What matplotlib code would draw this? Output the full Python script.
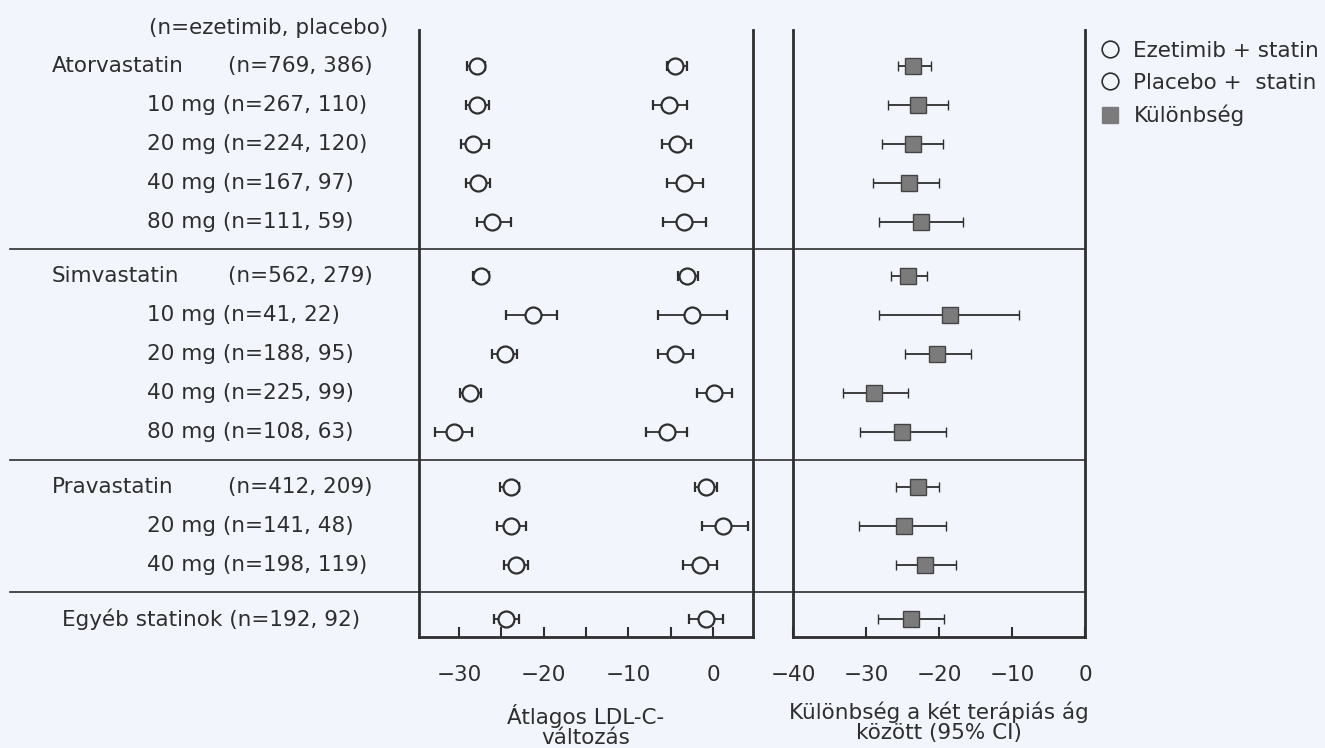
import numpy as np
import matplotlib
matplotlib.use("Agg")
import matplotlib.pyplot as plt
from matplotlib.lines import Line2D
from matplotlib.transforms import blended_transform_factory

plt.rcParams['font.family'] = ['DejaVu Sans']

# row labels (group name, n-text) - group rows have a name, dose rows only text
row_names = ['Atorvastatin', '', '', '', '',
             'Simvastatin', '', '', '', '',
             'Pravastatin', '', '',
             '']
row_texts = ['(n=769, 386)', '10 mg (n=267, 110)', '20 mg (n=224, 120)',
             '40 mg (n=167, 97)', '80 mg (n=111, 59)',
             '(n=562, 279)', '10 mg (n=41, 22)', '20 mg (n=188, 95)',
             '40 mg (n=225, 99)', '80 mg (n=108, 63)',
             '(n=412, 209)', '20 mg (n=141, 48)', '40 mg (n=198, 119)',
             'Egyéb statinok (n=192, 92)']
row_group = [0, 0, 0, 0, 0, 1, 1, 1, 1, 1, 2, 2, 2, 3]

# mean LDL-C change, ezetimib + statin
eze_mean = [-27.9, -27.9, -28.3, -27.7, -26.1, -27.4, -21.3, -24.6, -28.7, -30.6, -23.9, -23.8, -23.3, -24.4]
eze_lo = [-29.0, -29.1, -29.7, -29.2, -27.9, -28.3, -24.4, -26.1, -29.9, -32.8, -25.1, -25.5, -24.7, -25.9]
eze_hi = [-26.9, -26.4, -26.5, -26.3, -23.9, -26.4, -18.4, -23.1, -27.4, -28.5, -22.9, -22.1, -21.8, -22.9]

# placebo + statin
pla_mean = [-4.5, -5.2, -4.3, -3.4, -3.4, -3.1, -2.5, -4.5, 0.1, -5.4, -0.8, 1.2, -1.6, -0.8]
pla_lo = [-5.5, -7.1, -6.0, -5.4, -5.9, -4.1, -6.5, -6.5, -1.9, -7.9, -2.2, -1.3, -3.5, -2.8]
pla_hi = [-3.1, -3.1, -2.6, -1.2, -0.9, -1.8, 1.6, -2.4, 2.2, -3.1, 0.5, 4.1, 0.4, 1.2]

# difference between arms (95% CI)
dif_mean = [-23.6, -22.9, -23.6, -24.1, -22.5, -24.2, -18.5, -20.3, -28.9, -25.1, -22.9, -24.8, -21.9, -23.8]
dif_lo = [-25.6, -27.0, -27.8, -29.0, -28.2, -26.6, -28.2, -24.7, -33.2, -30.8, -25.9, -31.0, -25.9, -28.4]
dif_hi = [-21.1, -18.8, -19.5, -20.0, -16.7, -21.6, -9.0, -15.6, -24.2, -19.0, -20.0, -19.0, -17.7, -19.3]

left_ticks = [-30, -20, -10, 0]
left_minor = [-25, -15, -5]
right_ticks = [-40, -30, -20, -10, 0]

BG = '#f2f5fb'
INK = '#2e2e2e'
FS = 15.5

y = np.arange(len(row_texts)) + 0.4 * np.array(row_group)
seps = [(y[i] + y[i + 1]) / 2 for i in range(len(y) - 1) if row_group[i] != row_group[i + 1]]

fig = plt.figure(figsize=(13.25, 7.48), dpi=100, facecolor=BG)
ax1 = fig.add_axes([419 / 1325, 1 - 637 / 748, 334 / 1325, 607 / 748])
ax2 = fig.add_axes([793 / 1325, 1 - 637 / 748, 292 / 1325, 607 / 748])

def err(m, lo, hi):
    m = np.array(m)
    return [m - np.array(lo), np.array(hi) - m]

eb_kw = dict(ls='none', ecolor=INK, elinewidth=1.3, capsize=3.6, capthick=1.5)
ax1.errorbar(eze_mean, y, xerr=err(eze_mean, eze_lo, eze_hi), marker='o', ms=11.5,
             mfc=BG, mec=INK, mew=1.6, **eb_kw)
ax1.errorbar(pla_mean, y, xerr=err(pla_mean, pla_lo, pla_hi), marker='o', ms=11.5,
             mfc=BG, mec=INK, mew=1.6, **eb_kw)
ax2.errorbar(dif_mean, y, xerr=err(dif_mean, dif_lo, dif_hi), marker='s', ms=12,
             mfc='#7b7b7b', mec='#444444', mew=1.0, **eb_kw)

for ax in (ax1, ax2):
    ax.set_facecolor(BG)
    ax.set_ylim(14.65, -0.915)
    ax.set_yticks([])
    ax.spines['top'].set_visible(False)
    for s in ('left', 'right', 'bottom'):
        ax.spines[s].set_linewidth(2.0)
        ax.spines[s].set_color(INK)
    ax.tick_params(axis='x', which='both', direction='in', length=7, width=1.5,
                   color=INK, labelsize=FS, labelcolor=INK, pad=20)

ax1.set_xlim(-34.7, 4.7)
ax1.set_xticks(left_ticks)
ax1.set_xticks(left_minor, minor=True)
ax1.set_xticklabels([f'\u2212{abs(t)}' if t else '0' for t in left_ticks])
ax1.set_xlabel('Átlagos LDL-C-\nváltozás', fontsize=FS, color=INK, linespacing=1.0, labelpad=14)

ax2.set_xlim(-40, 0)
ax2.set_xticks(right_ticks)
ax2.set_xticklabels([f'\u2212{abs(t)}' if t else '0' for t in right_ticks])
ax2.set_xlabel('Különbség a két terápiás ág\nközött (95% CI)', fontsize=FS, color=INK,
               linespacing=1.0, labelpad=12)

# group separators across the whole figure
tr = blended_transform_factory(fig.transFigure, ax1.transData)
for s in seps:
    fig.add_artist(Line2D([10 / 1325, 1085 / 1325], [s, s], transform=tr, color=INK, lw=1.2))

# row labels
fig.text(149 / 1325, -0.97, '(n=ezetimib, placebo)', transform=tr, fontsize=FS, color=INK, va='center')
for yi, name, txt in zip(y, row_names, row_texts):
    if name:
        fig.text(52 / 1325, yi, name, transform=tr, fontsize=FS, color=INK, va='center')
        fig.text(228 / 1325, yi, txt, transform=tr, fontsize=FS, color=INK, va='center')
    elif txt.startswith('Egy'):
        fig.text(62 / 1325, yi, txt, transform=tr, fontsize=FS, color=INK, va='center')
    else:
        fig.text(147 / 1325, yi, txt, transform=tr, fontsize=FS, color=INK, va='center')

handles = [Line2D([], [], ls='none', marker='o', ms=12, mfc=BG, mec=INK, mew=1.2),
           Line2D([], [], ls='none', marker='o', ms=12, mfc=BG, mec=INK, mew=1.2),
           Line2D([], [], ls='none', marker='s', ms=12, mfc='#7b7b7b', mec='#7b7b7b')]
fig.legend(handles, ['Ezetimib + statin', 'Placebo +  statin', 'Különbség'],
           loc='upper left', bbox_to_anchor=(1099 / 1325, 1 - 41 / 748), frameon=False,
           fontsize=FS, labelcolor=INK, handlelength=1.0, handletextpad=0.6,
           labelspacing=0.55, borderaxespad=0, borderpad=0)

fig.savefig('out.png', dpi=100, facecolor=BG)
